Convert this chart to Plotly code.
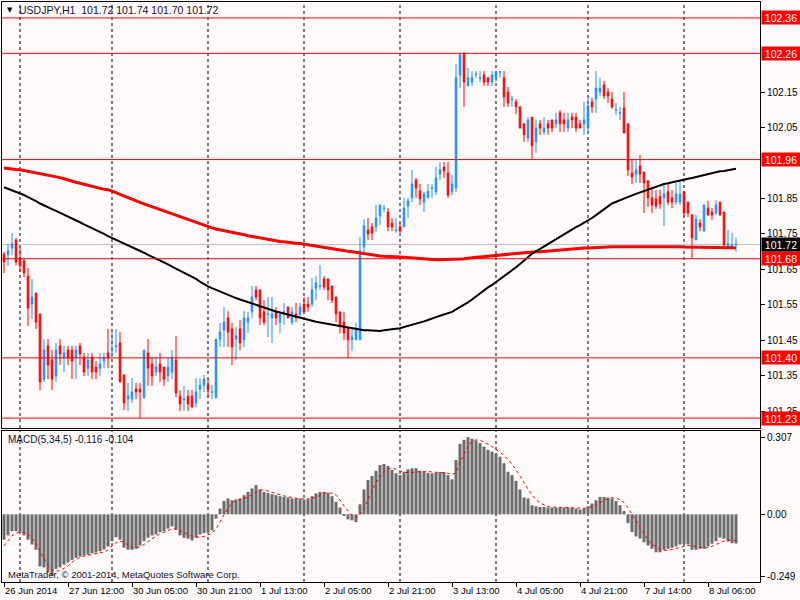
import plotly.graph_objects as go

# USDJPY H1, 26 Jun 2014 20:00 .. 8 Jul 2014 13:00 (one bar per traded hour)
DAYS = ["2014-06-26", "2014-06-27", "2014-06-30", "2014-07-01", "2014-07-02",
        "2014-07-03", "2014-07-04", "2014-07-07", "2014-07-08"]
FIRST_HOUR = [20, 0, 0, 0, 0, 0, 0, 0, 0]
LAST_HOUR = [23, 22, 23, 23, 23, 23, 22, 23, 13]

TICK_TEXT = ["26 Jun 2014", "27 Jun 12:00", "30 Jun 05:00", "30 Jun 21:00", "1 Jul 13:00",
             "2 Jul 05:00", "2 Jul 21:00", "3 Jul 13:00", "4 Jul 05:00", "4 Jul 21:00",
             "7 Jul 14:00", "8 Jul 06:00"]

OPEN = [
    101.693, 101.691, 101.710, 101.733, 101.682, 101.674, 101.631, 101.552, 101.583, 101.524,
    101.340, 101.434, 101.394, 101.349, 101.434, 101.400, 101.422, 101.422, 101.400, 101.434,
    101.402, 101.371, 101.402, 101.374, 101.371, 101.391, 101.414, 101.420, 101.432, 101.442,
    101.352, 101.284, 101.284, 101.312, 101.312, 101.289, 101.414, 101.383, 101.360, 101.383,
    101.374, 101.349, 101.360, 101.394, 101.292, 101.282, 101.292, 101.292, 101.273, 101.312,
    101.323, 101.323, 101.303, 101.289, 101.453, 101.479, 101.513, 101.482, 101.453, 101.482,
    101.451, 101.501, 101.530, 101.592, 101.592, 101.530, 101.523, 101.513, 101.530, 101.501,
    101.529, 101.544, 101.501, 101.524, 101.524, 101.552, 101.552, 101.552, 101.597, 101.602,
    101.623, 101.623, 101.603, 101.572, 101.530, 101.501, 101.484, 101.451, 101.451, 101.451,
    101.713, 101.761, 101.770, 101.770, 101.801, 101.822, 101.812, 101.781, 101.760, 101.770,
    101.770, 101.829, 101.852, 101.902, 101.871, 101.840, 101.852, 101.879, 101.869, 101.919,
    101.939, 101.922, 101.869, 101.880, 102.199, 102.261, 102.168, 102.179, 102.200, 102.190,
    102.199, 102.191, 102.179, 102.191, 102.207, 102.191, 102.151, 102.130, 102.123, 102.109,
    102.061, 102.021, 102.080, 102.010, 102.061, 102.038, 102.061, 102.072, 102.061, 102.092,
    102.072, 102.049, 102.080, 102.080, 102.061, 102.061, 102.049, 102.123, 102.131, 102.151,
    102.171, 102.151, 102.131, 102.099, 102.091, 102.106, 102.061, 101.922, 101.919, 101.942,
    101.925, 101.900, 101.852, 101.849, 101.855, 101.852, 101.869, 101.852, 101.840, 101.840,
    101.869, 101.840, 101.804, 101.733, 101.781, 101.758, 101.823, 101.812, 101.809, 101.840,
    101.812, 101.713, 101.710, 101.719,
]
HIGH = [
    101.699, 101.722, 101.753, 101.739, 101.713, 101.682, 101.654, 101.623, 101.583, 101.524,
    101.453, 101.453, 101.422, 101.442, 101.453, 101.434, 101.434, 101.434, 101.434, 101.442,
    101.414, 101.414, 101.414, 101.391, 101.414, 101.414, 101.482, 101.473, 101.482, 101.473,
    101.352, 101.329, 101.343, 101.329, 101.329, 101.422, 101.453, 101.402, 101.402, 101.414,
    101.374, 101.402, 101.422, 101.462, 101.309, 101.321, 101.309, 101.309, 101.343, 101.343,
    101.352, 101.340, 101.323, 101.453, 101.499, 101.544, 101.532, 101.499, 101.487, 101.507,
    101.532, 101.530, 101.603, 101.603, 101.592, 101.563, 101.572, 101.572, 101.544, 101.530,
    101.555, 101.544, 101.544, 101.555, 101.555, 101.572, 101.572, 101.626, 101.631, 101.662,
    101.631, 101.623, 101.603, 101.572, 101.530, 101.530, 101.484, 101.484, 101.499, 101.741,
    101.792, 101.795, 101.781, 101.832, 101.832, 101.832, 101.823, 101.795, 101.795, 101.781,
    101.852, 101.852, 101.931, 101.908, 101.891, 101.869, 101.891, 101.891, 101.939, 101.953,
    101.953, 101.953, 101.917, 102.230, 102.261, 102.262, 102.219, 102.210, 102.210, 102.210,
    102.210, 102.191, 102.210, 102.210, 102.210, 102.210, 102.165, 102.140, 102.131, 102.109,
    102.061, 102.080, 102.080, 102.072, 102.072, 102.080, 102.072, 102.072, 102.092, 102.100,
    102.092, 102.092, 102.092, 102.092, 102.072, 102.123, 102.140, 102.134, 102.210, 102.191,
    102.182, 102.162, 102.151, 102.120, 102.109, 102.151, 102.061, 101.962, 101.962, 101.973,
    101.925, 101.900, 101.880, 101.874, 101.874, 101.894, 101.894, 101.874, 101.894, 101.902,
    101.869, 101.840, 101.804, 101.804, 101.792, 101.832, 101.843, 101.823, 101.846, 101.840,
    101.812, 101.761, 101.753, 101.740,
]
LOW = [
    101.640, 101.660, 101.691, 101.662, 101.643, 101.628, 101.490, 101.510, 101.482, 101.309,
    101.332, 101.340, 101.309, 101.332, 101.380, 101.360, 101.380, 101.340, 101.340, 101.380,
    101.349, 101.349, 101.340, 101.340, 101.349, 101.371, 101.371, 101.400, 101.414, 101.332,
    101.253, 101.250, 101.273, 101.284, 101.230, 101.284, 101.321, 101.321, 101.349, 101.332,
    101.321, 101.332, 101.340, 101.289, 101.250, 101.250, 101.250, 101.261, 101.261, 101.284,
    101.304, 101.289, 101.284, 101.284, 101.431, 101.431, 101.431, 101.380, 101.394, 101.422,
    101.431, 101.470, 101.513, 101.563, 101.493, 101.493, 101.459, 101.442, 101.493, 101.470,
    101.493, 101.513, 101.493, 101.501, 101.513, 101.530, 101.530, 101.544, 101.563, 101.592,
    101.592, 101.563, 101.555, 101.501, 101.470, 101.451, 101.400, 101.419, 101.451, 101.451,
    101.699, 101.733, 101.733, 101.756, 101.775, 101.812, 101.758, 101.758, 101.753, 101.753,
    101.770, 101.795, 101.840, 101.852, 101.832, 101.812, 101.852, 101.852, 101.860, 101.902,
    101.908, 101.852, 101.860, 101.869, 102.162, 102.109, 102.168, 102.168, 102.191, 102.179,
    102.168, 102.168, 102.168, 102.179, 102.191, 102.109, 102.109, 102.109, 102.089, 102.049,
    102.010, 102.010, 101.959, 101.979, 102.030, 102.030, 102.030, 102.038, 102.049, 102.038,
    102.038, 102.038, 102.049, 102.038, 102.049, 102.030, 102.038, 102.092, 102.092, 102.140,
    102.131, 102.120, 102.103, 102.086, 102.072, 102.035, 101.914, 101.891, 101.894, 101.894,
    101.809, 101.826, 101.809, 101.821, 101.821, 101.773, 101.832, 101.823, 101.832, 101.832,
    101.798, 101.798, 101.682, 101.733, 101.758, 101.758, 101.801, 101.790, 101.804, 101.801,
    101.716, 101.710, 101.708, 101.700,
]
CLOSE = [
    101.671, 101.702, 101.722, 101.671, 101.660, 101.640, 101.541, 101.572, 101.501, 101.332,
    101.422, 101.380, 101.340, 101.422, 101.411, 101.414, 101.400, 101.391, 101.422, 101.411,
    101.360, 101.394, 101.360, 101.360, 101.383, 101.402, 101.400, 101.422, 101.434, 101.332,
    101.273, 101.292, 101.304, 101.304, 101.304, 101.422, 101.371, 101.349, 101.374, 101.360,
    101.340, 101.374, 101.402, 101.301, 101.270, 101.284, 101.270, 101.261, 101.304, 101.323,
    101.340, 101.312, 101.304, 101.453, 101.473, 101.501, 101.473, 101.431, 101.462, 101.442,
    101.513, 101.513, 101.572, 101.572, 101.513, 101.501, 101.524, 101.524, 101.513, 101.524,
    101.530, 101.513, 101.530, 101.513, 101.544, 101.530, 101.544, 101.592, 101.612, 101.603,
    101.600, 101.592, 101.563, 101.524, 101.490, 101.470, 101.451, 101.459, 101.479, 101.702,
    101.773, 101.750, 101.753, 101.795, 101.832, 101.823, 101.770, 101.770, 101.761, 101.758,
    101.823, 101.843, 101.891, 101.880, 101.849, 101.863, 101.871, 101.880, 101.908, 101.931,
    101.928, 101.860, 101.891, 102.191, 102.256, 102.179, 102.191, 102.191, 102.201, 102.191,
    102.179, 102.179, 102.199, 102.208, 102.208, 102.137, 102.120, 102.131, 102.109, 102.049,
    102.030, 102.072, 101.999, 102.049, 102.049, 102.049, 102.049, 102.049, 102.072, 102.061,
    102.061, 102.072, 102.072, 102.049, 102.049, 102.072, 102.112, 102.109, 102.162, 102.162,
    102.140, 102.140, 102.109, 102.100, 102.092, 102.035, 101.931, 101.911, 101.931, 101.919,
    101.894, 101.852, 101.832, 101.829, 101.835, 101.863, 101.840, 101.840, 101.863, 101.863,
    101.809, 101.809, 101.739, 101.792, 101.770, 101.832, 101.804, 101.804, 101.832, 101.804,
    101.719, 101.722, 101.719, 101.721,
]

# moving averages (red = slow, black = faster)
MA_RED = [
    101.936, 101.934, 101.933, 101.932, 101.931, 101.929, 101.927, 101.925, 101.923, 101.921,
    101.919, 101.917, 101.915, 101.912, 101.909, 101.906, 101.902, 101.899, 101.896, 101.893,
    101.890, 101.887, 101.883, 101.880, 101.877, 101.876, 101.875, 101.872, 101.867, 101.862,
    101.857, 101.852, 101.847, 101.843, 101.839, 101.835, 101.831, 101.827, 101.823, 101.819,
    101.815, 101.811, 101.807, 101.803, 101.799, 101.795, 101.791, 101.787, 101.782, 101.778,
    101.773, 101.769, 101.767, 101.764, 101.762, 101.759, 101.757, 101.754, 101.752, 101.750,
    101.748, 101.745, 101.743, 101.740, 101.737, 101.735, 101.733, 101.731, 101.730, 101.729,
    101.728, 101.726, 101.725, 101.724, 101.723, 101.721, 101.719, 101.717, 101.715, 101.714,
    101.712, 101.710, 101.708, 101.706, 101.705, 101.703, 101.701, 101.700, 101.698, 101.696,
    101.695, 101.693, 101.691, 101.690, 101.688, 101.687, 101.687, 101.686, 101.686, 101.685,
    101.684, 101.683, 101.682, 101.680, 101.679, 101.679, 101.678, 101.678, 101.677, 101.677,
    101.677, 101.678, 101.678, 101.679, 101.679, 101.680, 101.682, 101.683, 101.684, 101.685,
    101.686, 101.688, 101.689, 101.691, 101.692, 101.692, 101.693, 101.694, 101.695, 101.696,
    101.697, 101.698, 101.699, 101.700, 101.700, 101.701, 101.702, 101.703, 101.704, 101.705,
    101.706, 101.706, 101.707, 101.708, 101.709, 101.710, 101.710, 101.711, 101.712, 101.712,
    101.712, 101.713, 101.714, 101.714, 101.714, 101.715, 101.715, 101.716, 101.716, 101.716,
    101.716, 101.716, 101.715, 101.715, 101.715, 101.715, 101.714, 101.714, 101.714, 101.714,
    101.713, 101.713, 101.713, 101.713, 101.712, 101.712, 101.712, 101.712, 101.712, 101.711,
    101.711, 101.711, 101.711, 101.710,
]
MA_BLACK = [
    101.882, 101.878, 101.874, 101.870, 101.866, 101.860, 101.854, 101.849, 101.843, 101.836,
    101.830, 101.825, 101.820, 101.815, 101.810, 101.805, 101.799, 101.794, 101.788, 101.783,
    101.777, 101.772, 101.766, 101.761, 101.755, 101.750, 101.744, 101.739, 101.734, 101.728,
    101.723, 101.718, 101.712, 101.707, 101.702, 101.697, 101.691, 101.686, 101.681, 101.675,
    101.669, 101.664, 101.658, 101.652, 101.647, 101.641, 101.636, 101.630, 101.623, 101.615,
    101.608, 101.602, 101.597, 101.592, 101.588, 101.583, 101.578, 101.573, 101.569, 101.565,
    101.561, 101.557, 101.553, 101.549, 101.545, 101.541, 101.537, 101.534, 101.531, 101.528,
    101.525, 101.521, 101.518, 101.515, 101.512, 101.509, 101.507, 101.505, 101.502, 101.500,
    101.498, 101.496, 101.493, 101.491, 101.489, 101.487, 101.485, 101.483, 101.481, 101.479,
    101.478, 101.478, 101.477, 101.476, 101.476, 101.478, 101.479, 101.481, 101.483, 101.484,
    101.487, 101.490, 101.492, 101.495, 101.499, 101.503, 101.507, 101.512, 101.515, 101.519,
    101.522, 101.525, 101.530, 101.537, 101.543, 101.550, 101.557, 101.565, 101.574, 101.582,
    101.591, 101.599, 101.606, 101.614, 101.623, 101.631, 101.639, 101.648, 101.656, 101.665,
    101.675, 101.684, 101.694, 101.701, 101.708, 101.715, 101.721, 101.728, 101.736, 101.743,
    101.750, 101.757, 101.763, 101.769, 101.775, 101.781, 101.787, 101.795, 101.803, 101.812,
    101.820, 101.828, 101.836, 101.841, 101.845, 101.850, 101.854, 101.859, 101.863, 101.867,
    101.872, 101.876, 101.880, 101.884, 101.888, 101.891, 101.893, 101.896, 101.898, 101.900,
    101.903, 101.906, 101.908, 101.911, 101.914, 101.917, 101.920, 101.923, 101.925, 101.927,
    101.928, 101.930, 101.932, 101.934,
]

# MACD(5,34,5): histogram (main) and signal
MACD_MAIN = [
    -0.101, -0.084, -0.067, -0.067, -0.071, -0.084, -0.101, -0.120, -0.141, -0.207,
    -0.211, -0.231, -0.245, -0.217, -0.211, -0.200, -0.191, -0.181, -0.173, -0.168,
    -0.164, -0.160, -0.155, -0.152, -0.147, -0.140, -0.128, -0.107, -0.091, -0.101,
    -0.133, -0.141, -0.141, -0.137, -0.124, -0.107, -0.093, -0.084, -0.080, -0.071,
    -0.067, -0.057, -0.048, -0.061, -0.084, -0.093, -0.097, -0.104, -0.093, -0.080,
    -0.075, -0.071, -0.064, -0.017, 0.023, 0.053, 0.063, 0.056, 0.059, 0.063,
    0.076, 0.089, 0.103, 0.116, 0.099, 0.089, 0.085, 0.080, 0.076, 0.072,
    0.069, 0.067, 0.063, 0.063, 0.063, 0.059, 0.059, 0.072, 0.083, 0.089,
    0.089, 0.085, 0.072, 0.049, 0.027, -0.004, -0.020, -0.024, -0.031, 0.040,
    0.099, 0.136, 0.152, 0.173, 0.196, 0.200, 0.192, 0.176, 0.163, 0.156,
    0.169, 0.179, 0.183, 0.183, 0.173, 0.169, 0.165, 0.163, 0.165, 0.168,
    0.168, 0.156, 0.139, 0.216, 0.280, 0.296, 0.307, 0.300, 0.293, 0.283,
    0.269, 0.256, 0.249, 0.243, 0.229, 0.203, 0.169, 0.156, 0.133, 0.099,
    0.067, 0.063, 0.036, 0.032, 0.029, 0.029, 0.027, 0.027, 0.027, 0.027,
    0.027, 0.027, 0.027, 0.023, 0.019, 0.023, 0.032, 0.043, 0.056, 0.069,
    0.069, 0.067, 0.063, 0.053, 0.036, 0.013, -0.035, -0.071, -0.088, -0.097,
    -0.111, -0.124, -0.137, -0.151, -0.151, -0.141, -0.137, -0.133, -0.128, -0.120,
    -0.117, -0.120, -0.141, -0.141, -0.137, -0.137, -0.128, -0.117, -0.107, -0.093,
    -0.097, -0.108, -0.115, -0.116,
]
MACD_SIGNAL = [
    -0.125, -0.105, -0.085, -0.075, -0.071, -0.073, -0.079, -0.095, -0.115, -0.147,
    -0.175, -0.203, -0.220, -0.226, -0.223, -0.215, -0.206, -0.190, -0.180, -0.171,
    -0.166, -0.162, -0.158, -0.155, -0.153, -0.150, -0.142, -0.125, -0.113, -0.107,
    -0.110, -0.122, -0.130, -0.132, -0.129, -0.120, -0.108, -0.097, -0.088, -0.077,
    -0.071, -0.065, -0.058, -0.058, -0.064, -0.072, -0.080, -0.087, -0.090, -0.091,
    -0.088, -0.083, -0.075, -0.058, -0.030, -0.002, 0.025, 0.045, 0.055, 0.059,
    0.063, 0.069, 0.078, 0.086, 0.096, 0.097, 0.093, 0.088, 0.084, 0.078,
    0.073, 0.069, 0.066, 0.064, 0.061, 0.060, 0.061, 0.064, 0.068, 0.076,
    0.083, 0.086, 0.084, 0.076, 0.057, 0.033, 0.012, -0.006, -0.012, 0.000,
    0.025, 0.060, 0.095, 0.125, 0.150, 0.170, 0.180, 0.183, 0.180, 0.172,
    0.168, 0.165, 0.166, 0.168, 0.170, 0.171, 0.170, 0.168, 0.166, 0.165,
    0.164, 0.163, 0.158, 0.165, 0.205, 0.240, 0.270, 0.290, 0.296, 0.294,
    0.288, 0.279, 0.269, 0.258, 0.248, 0.235, 0.218, 0.198, 0.178, 0.152,
    0.125, 0.100, 0.078, 0.058, 0.045, 0.037, 0.031, 0.029, 0.028, 0.027,
    0.027, 0.027, 0.027, 0.026, 0.025, 0.024, 0.025, 0.030, 0.037, 0.046,
    0.055, 0.063, 0.066, 0.064, 0.058, 0.046, 0.025, 0.000, -0.028, -0.055,
    -0.080, -0.102, -0.118, -0.130, -0.139, -0.143, -0.143, -0.140, -0.136, -0.131,
    -0.127, -0.124, -0.125, -0.127, -0.130, -0.134, -0.132, -0.127, -0.120, -0.112,
    -0.106, -0.102, -0.102, -0.104,
]

LEVELS = [102.36, 102.26, 101.96, 101.68, 101.40, 101.23]
# 102.35, 102.25 and 101.95 sit under the red level boxes, so they are left out
PRICE_TICKS = [101.25, 101.35, 101.45, 101.55, 101.65, 101.75, 101.85,
               102.05, 102.15]
BID = 101.72

times = [f"{d} {h:02d}:00"
         for d, h0, h1 in zip(DAYS, FIRST_HOUR, LAST_HOUR)
         for h in range(h0, h1 + 1)]
day_starts = [t for t in times if t.endswith(" 00:00")]

BG = "#fffafa"
FONT = "Liberation Sans"
TXT = "#101030"

fig = go.Figure()
fig.add_trace(go.Candlestick(
    x=times, open=OPEN, high=HIGH, low=LOW, close=CLOSE,
    increasing=dict(line=dict(color="#1e90ff", width=1), fillcolor="#1e90ff"),
    decreasing=dict(line=dict(color="#ff0000", width=1), fillcolor="#ff0000"),
    whiskerwidth=0, xaxis="x", yaxis="y", hoverinfo="skip"))
fig.add_trace(go.Scatter(x=times, y=MA_RED, mode="lines",
                         line=dict(color="#ff0000", width=3), xaxis="x", yaxis="y"))
fig.add_trace(go.Scatter(x=times, y=MA_BLACK, mode="lines",
                         line=dict(color="#000000", width=2), xaxis="x", yaxis="y"))
fig.add_trace(go.Bar(x=times, y=MACD_MAIN, marker=dict(color="#6b6b6b", line=dict(width=0)),
                     xaxis="x2", yaxis="y2"))
fig.add_trace(go.Scatter(x=times, y=MACD_SIGNAL, mode="lines",
                         line=dict(color="#ff0000", width=1, dash="dot"), xaxis="x2", yaxis="y2"))

# day separators in both panes
for t in day_starts:
    for xr, yr in (("x", "y domain"), ("x2", "y2 domain")):
        fig.add_shape(type="line", xref=xr, yref=yr, x0=t, x1=t, y0=0, y1=1, layer="below",
                      line=dict(color="black", width=1, dash="3px,3px"))

fig.add_shape(type="line", xref="x domain", yref="y", x0=0, x1=1, y0=BID, y1=BID,
              line=dict(color="#c0c0c0", width=1), layer="below")
for lv in LEVELS:
    fig.add_shape(type="line", xref="x domain", yref="y", x0=0, x1=1, y0=lv, y1=lv,
                  line=dict(color="#ff0000", width=1))

annotations = []
for lv in LEVELS:
    annotations.append(dict(xref="paper", yref="y", x=1, y=lv, xanchor="left", yanchor="middle",
                            xshift=1, text=f"{lv:.2f}", showarrow=False, bgcolor="#ff0000",
                            font=dict(color="white", size=10.5, family=FONT),
                            width=36, height=11, borderpad=1))
annotations.append(dict(xref="paper", yref="y", x=1, y=BID, xanchor="left", yanchor="middle",
                        xshift=1, text=f"{BID:.2f}", showarrow=False, bgcolor="#000000",
                        font=dict(color="white", size=10.5, family=FONT),
                        width=36, height=11, borderpad=1))
annotations.append(dict(xref="paper", yref="paper", x=0.0045, y=0.986, xanchor="left",
                        yanchor="middle", text="▼", showarrow=False,
                        font=dict(size=7, color="black", family="DejaVu Sans")))
annotations.append(dict(xref="paper", yref="paper", x=0.0195, y=0.986, xanchor="left",
                        yanchor="middle", showarrow=False,
                        text="USDJPY,H1  101.72 101.74 101.70 101.72",
                        font=dict(size=10.5, color=TXT, family=FONT)))
annotations.append(dict(xref="paper", yref="paper", x=0.005, y=0.245, xanchor="left",
                        yanchor="middle", showarrow=False, text="MACD(5,34,5) -0.116 -0.104",
                        font=dict(size=10, color=TXT, family=FONT)))
annotations.append(dict(xref="paper", yref="paper", x=0.005, y=0.013, xanchor="left",
                        yanchor="middle", showarrow=False,
                        text="MetaTrader, © 2001-2014, MetaQuotes Software Corp.",
                        font=dict(size=9.5, color=TXT, family=FONT)))

axis_common = dict(showline=True, linecolor="black", linewidth=1, mirror=True,
                   showgrid=False, zeroline=False, fixedrange=True)
xrange = [-0.5, 189]

fig.update_layout(
    width=800, height=600,
    margin=dict(l=2, r=40, t=2, b=18, pad=0),
    paper_bgcolor=BG, plot_bgcolor=BG,
    font=dict(family=FONT, size=10, color="black"),
    showlegend=False, hovermode=False, bargap=0.25, boxgap=0.45,
    xaxis=dict(axis_common, domain=[0, 1], anchor="y", type="category", range=xrange,
               showticklabels=False, ticks="", rangeslider=dict(visible=False)),
    yaxis=dict(axis_common, domain=[0.2655, 1], anchor="x", side="right",
               range=[101.202, 102.405], tickvals=PRICE_TICKS,
               ticktext=[f"{v:.2f}" for v in PRICE_TICKS],
               ticks="outside", ticklen=4, tickcolor="black", tickfont=dict(size=10)),
    xaxis2=dict(axis_common, domain=[0, 1], anchor="y2", type="category", range=xrange,
                tickvals=times[::16], ticktext=TICK_TEXT, tickangle=0,
                ticks="outside", ticklen=4, tickcolor="black",
                ticklabelposition="outside right", tickfont=dict(size=9.5)),
    yaxis2=dict(axis_common, domain=[0, 0.2603], anchor="x2", side="right",
                range=[-0.269, 0.331], tickvals=[-0.249, 0, 0.307],
                ticktext=["-0.249", "0.00", "0.307"],
                ticks="outside", ticklen=4, tickcolor="black", tickfont=dict(size=10)),
    annotations=annotations,
)

fig.write_html("out.html", config={"displayModeBar": False},
               post_script="document.body.style.margin='0';document.body.style.overflow='hidden';")
